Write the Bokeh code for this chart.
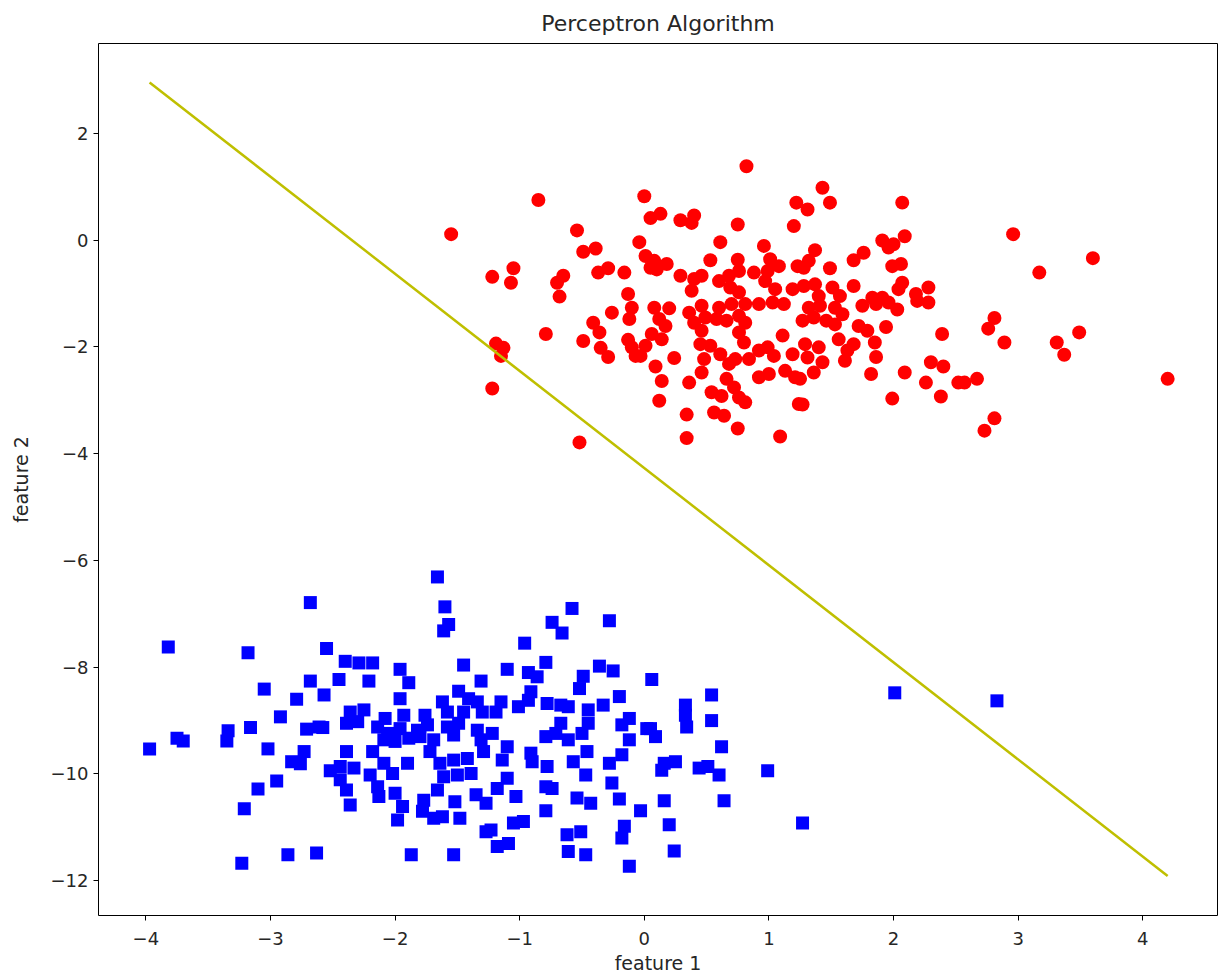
from bokeh.plotting import figure
from bokeh.models import Range1d, FixedTicker, CustomJSTickFormatter
from bokeh.embed import file_html
from bokeh.resources import INLINE

red_x = [-0.85,-1.55,-0.54,0.0,-0.04,-0.49,-0.39,-1.22,-1.05,-1.07,-0.65,-0.70,-0.68,-0.37,-0.29,-0.16,-0.13,-0.10,-0.12,-0.26,-0.41,-0.36,-0.79,-0.49,-0.35,-0.29,-0.13,-0.10,-0.07,-1.19,-1.13,-1.15,-1.22,-0.52,
         0.82,1.22,0.05,0.13,0.29,0.40,0.38,0.75,1.20,0.61,0.96,0.01,0.08,0.05,0.10,0.18,0.53,0.75,0.29,0.40,0.46,0.38,1.01,1.08,0.60,0.68,0.76,0.69,0.76,0.88,0.99,0.97,1.05,1.19,1.23,
         0.08,0.20,0.36,0.46,0.60,0.70,0.81,0.92,1.03,1.12,0.12,0.17,0.40,0.49,0.58,0.66,0.76,0.81,0.46,0.76,0.80,0.06,0.01,0.14,1.11,-0.03,0.24,0.09,0.14,0.12,0.36,0.45,0.53,0.48,0.46,0.61,0.68,0.73,0.66,0.72,0.84,0.92,0.99,1.04,0.92,1.00,1.13,1.19,1.21,0.76,0.81,0.54,0.62,0.56,0.64,0.34,0.75,0.34,1.09,1.24,
         1.43,1.49,2.07,1.31,1.37,1.91,1.96,2.00,2.09,1.76,1.68,1.32,1.28,1.49,1.99,2.06,2.07,2.04,1.68,1.28,1.37,1.51,1.57,1.40,1.83,1.91,2.18,2.28,
         1.32,1.41,1.36,1.46,1.27,1.53,1.59,1.53,1.75,1.86,1.96,2.03,1.72,1.79,1.94,2.19,2.28,2.39,1.56,1.68,1.63,1.61,1.85,1.86,1.29,1.31,1.40,1.43,1.36,1.25,1.82,2.09,2.30,2.40,2.26,2.38,1.99,1.27,2.52,
         2.96,3.60,3.17,2.81,2.76,2.89,3.31,3.37,3.49,2.57,2.67,4.20,2.81,2.73]
red_y = [0.75,0.11,0.18,0.82,-0.04,-0.22,-0.16,-0.69,-0.53,-0.80,-0.67,-0.80,-1.06,-0.61,-0.53,-0.61,-1.01,-1.27,-1.48,-1.36,-1.55,-1.73,-1.76,-1.89,-2.02,-2.19,-1.87,-2.01,-2.17,-1.94,-2.02,-2.17,-2.78,-3.79,
         1.38,0.70,0.41,0.49,0.37,0.46,0.32,0.29,0.26,-0.04,-0.11,-0.30,-0.39,-0.52,-0.55,-0.45,-0.38,-0.37,-0.67,-0.73,-0.67,-0.95,-0.36,-0.49,-0.77,-0.67,-0.58,-0.89,-0.98,-0.61,-0.58,-0.77,-0.92,-0.92,-0.49,
         -1.27,-1.28,-1.36,-1.23,-1.27,-1.20,-1.20,-1.20,-1.17,-1.20,-1.48,-1.61,-1.55,-1.45,-1.48,-1.51,-1.42,-1.55,-1.70,-1.73,-1.92,-1.76,-1.98,-1.86,-1.79,-2.17,-2.21,-2.37,-2.64,-3.01,-2.67,-1.95,-1.98,-2.23,-2.48,-2.14,-2.32,-2.23,-2.60,-2.76,-2.23,-2.07,-2.01,-2.17,-2.57,-2.51,-2.45,-2.14,-2.57,-2.95,-3.04,-2.85,-2.92,-3.23,-3.29,-3.27,-3.53,-3.71,-3.68,-3.07,
         0.98,0.70,0.70,0.57,-0.19,-0.01,-0.14,-0.08,0.07,-0.24,-0.38,-0.39,-0.52,-0.53,-0.49,-0.45,-0.80,-0.92,-0.86,-0.86,-0.83,-0.89,-1.05,-1.05,-1.08,-1.08,-1.01,-0.89,
         -1.27,-1.23,-1.45,-1.51,-1.51,-1.27,-1.39,-1.58,-1.23,-1.20,-1.17,-1.30,-1.61,-1.70,-1.63,-1.14,-1.17,-1.76,-1.86,-1.95,-2.07,-2.26,-1.92,-2.19,-1.95,-2.20,-2.01,-2.29,-2.48,-2.60,-2.51,-2.48,-2.29,-2.37,-2.67,-2.93,-2.97,-3.08,-2.67,
         0.11,-0.34,-0.61,-1.46,-1.66,-1.92,-1.92,-2.15,-1.73,-2.67,-2.60,-2.60,-3.34,-3.57]

blue_x = [-2.68,-3.82,-3.18,-2.55,-2.68,-3.05,-2.79,-2.57,-2.92,-3.16,-3.34,-3.35,-3.75,-3.70,-3.97,-3.02,-2.71,-2.61,-2.58,-2.73,-2.83,-2.76,-2.52,-2.95,-3.10,-3.21,-3.23,-2.86,-2.63,
          -1.66,-1.60,-1.57,-1.61,-2.40,-2.29,-2.18,-2.45,-2.21,-1.96,-1.89,-1.96,-1.45,-1.31,-1.49,-1.41,-1.34,-1.62,-2.36,-2.25,-2.08,-1.93,-1.76,-1.58,-1.45,-1.30,
          -2.39,-2.30,-2.14,-2.06,-1.96,-1.82,-1.74,-2.09,-2.00,-1.89,-1.80,-1.69,-1.72,-1.58,-1.49,-1.53,-1.34,-1.31,-1.29,-2.39,-2.44,-2.33,-2.18,-2.09,-2.02,-2.20,-1.90,-1.64,-1.53,-1.42,-1.61,-1.50,-1.39,-2.44,-2.39,-2.36,-2.14,-2.13,-2.00,-1.94,-1.98,-1.77,-1.78,-1.66,-1.69,-1.62,-1.52,-1.48,-1.35,-1.27,-1.27,-1.87,-1.53,
          -0.58,-0.74,-0.66,-0.28,-0.96,-1.10,-0.79,-0.93,-0.86,-0.36,-0.25,-0.49,-0.52,0.06,-0.91,-0.93,-0.20,-1.15,-1.19,-1.01,-0.78,-0.67,-0.61,-0.45,-0.33,-0.12,
          -1.22,-1.10,-1.14,-1.10,-1.18,-1.03,-0.91,-0.90,-0.79,-0.71,-0.78,-0.79,-0.74,-0.67,-0.61,-0.50,-0.45,-0.57,-0.46,-0.47,-0.54,-0.43,-0.79,-1.05,-0.97,-1.23,-1.18,-1.09,-0.62,-0.51,-0.61,-0.47,-0.18,-0.12,-0.18,-0.28,-0.26,-0.20,-0.03,-0.16,-0.18,-0.12,0.02,
          0.54,0.33,0.33,0.34,0.54,0.05,0.09,0.62,0.16,0.25,0.14,0.44,0.51,0.60,0.99,0.16,0.64,0.20,1.27,0.24,2.01,2.83]
blue_y = [-6.79,-7.62,-7.73,-7.65,-8.26,-8.41,-8.60,-8.52,-8.93,-9.13,-9.19,-9.38,-9.33,-9.38,-9.53,-9.53,-9.16,-9.12,-9.13,-9.58,-9.77,-9.81,-9.94,-10.13,-10.28,-10.65,-11.67,-11.51,-11.48,
          -6.31,-6.87,-7.20,-7.32,-7.89,-7.92,-7.92,-8.23,-8.26,-8.04,-8.29,-8.59,-7.96,-8.26,-8.45,-8.59,-8.65,-8.65,-8.84,-8.80,-8.96,-8.90,-8.90,-8.84,-8.84,-8.84,
          -9.05,-9.02,-9.12,-9.24,-9.15,-9.18,-9.08,-9.36,-9.39,-9.33,-9.30,-9.36,-9.58,-9.12,-9.05,-9.27,-9.18,-9.36,-9.58,-9.58,-9.86,-9.89,-9.58,-9.80,-9.99,-10.02,-9.80,-9.80,-9.74,-9.71,-10.05,-10.02,-9.99,-10.11,-10.30,-10.58,-10.24,-10.42,-10.36,-10.61,-10.86,-10.49,-10.70,-10.30,-10.83,-10.80,-10.52,-10.83,-10.39,-10.55,-11.08,-11.51,-11.51,
          -6.90,-7.16,-7.36,-7.13,-7.55,-8.04,-7.91,-8.10,-8.18,-7.98,-8.07,-8.17,-8.40,-8.23,-8.46,-8.62,-8.55,-8.65,-8.84,-8.74,-8.68,-8.71,-8.74,-8.80,-8.71,-8.96,
          -9.24,-9.49,-9.74,-10.08,-10.27,-10.42,-9.61,-9.77,-9.30,-9.24,-9.86,-10.24,-10.27,-9.05,-9.36,-9.24,-9.05,-9.77,-9.58,-10.02,-10.45,-10.55,-10.69,-10.92,-10.89,-11.05,-11.36,-11.30,-11.14,-11.08,-11.45,-11.51,-9.08,-9.36,-9.64,-9.80,-10.17,-10.47,-10.69,-10.98,-11.20,-11.73,-9.15,
          -8.52,-8.71,-8.90,-9.12,-9.00,-9.15,-9.30,-9.49,-9.80,-9.77,-9.93,-9.89,-9.86,-10.02,-9.94,-10.50,-10.50,-10.95,-10.92,-11.44,-8.48,-8.63]

line_x = [-3.97, 4.20]
line_y = [2.95, -11.91]

x_ticks = [-4, -3, -2, -1, 0, 1, 2, 3, 4]
y_ticks = [-12, -10, -8, -6, -4, -2, 0, 2]

FONT = "DejaVu Sans"

p = figure(width=1227, height=976, output_backend="svg", toolbar_location=None,
           x_range=Range1d(-4.38, 4.60), y_range=Range1d(-12.65, 3.68),
           title="Perceptron Algorithm",
           min_border_left=98, min_border_right=10, min_border_top=43, min_border_bottom=61)

p.title.align = "center"
p.title.text_font = FONT
p.title.text_font_style = "normal"
p.title.text_font_size = "22px"
p.title.text_color = "#262626"
p.title.standoff = 15

p.grid.visible = False
p.outline_line_color = "black"
p.outline_line_width = 1
p.background_fill_color = "white"
p.border_fill_color = "white"

fmt = CustomJSTickFormatter(code="return (tick < 0 ? '\\u2212' : '') + Math.abs(tick).toString();")
for ax, ticks, label in ((p.xaxis[0], x_ticks, "feature 1"), (p.yaxis[0], y_ticks, "feature 2")):
    ax.ticker = FixedTicker(ticks=ticks)
    ax.formatter = fmt
    ax.axis_label = label
    ax.axis_label_text_font = FONT
    ax.axis_label_text_font_style = "normal"
    ax.axis_label_text_font_size = "19px"
    ax.axis_label_text_color = "#262626"
    ax.major_label_text_font = FONT
    ax.major_label_text_font_size = "18px"
    ax.major_label_text_color = "#262626"
    ax.major_tick_in = 0
    ax.major_tick_out = 5
    ax.minor_tick_in = 0
    ax.minor_tick_out = 0
    ax.axis_line_color = None
    ax.major_tick_line_color = "black"

p.xaxis[0].major_label_standoff = 11
p.xaxis[0].axis_label_standoff = 4
p.yaxis[0].major_label_standoff = 5
p.yaxis[0].axis_label_standoff = 16

p.scatter(red_x, red_y, marker="circle", size=14, fill_color="red", line_color="red", line_width=0)
p.scatter(blue_x, blue_y, marker="square", size=13, fill_color="blue", line_color="blue", line_width=0)
p.line(line_x, line_y, line_color="#bfbf00", line_width=2.5)

open("out.html", "w").write(file_html(p, INLINE))
